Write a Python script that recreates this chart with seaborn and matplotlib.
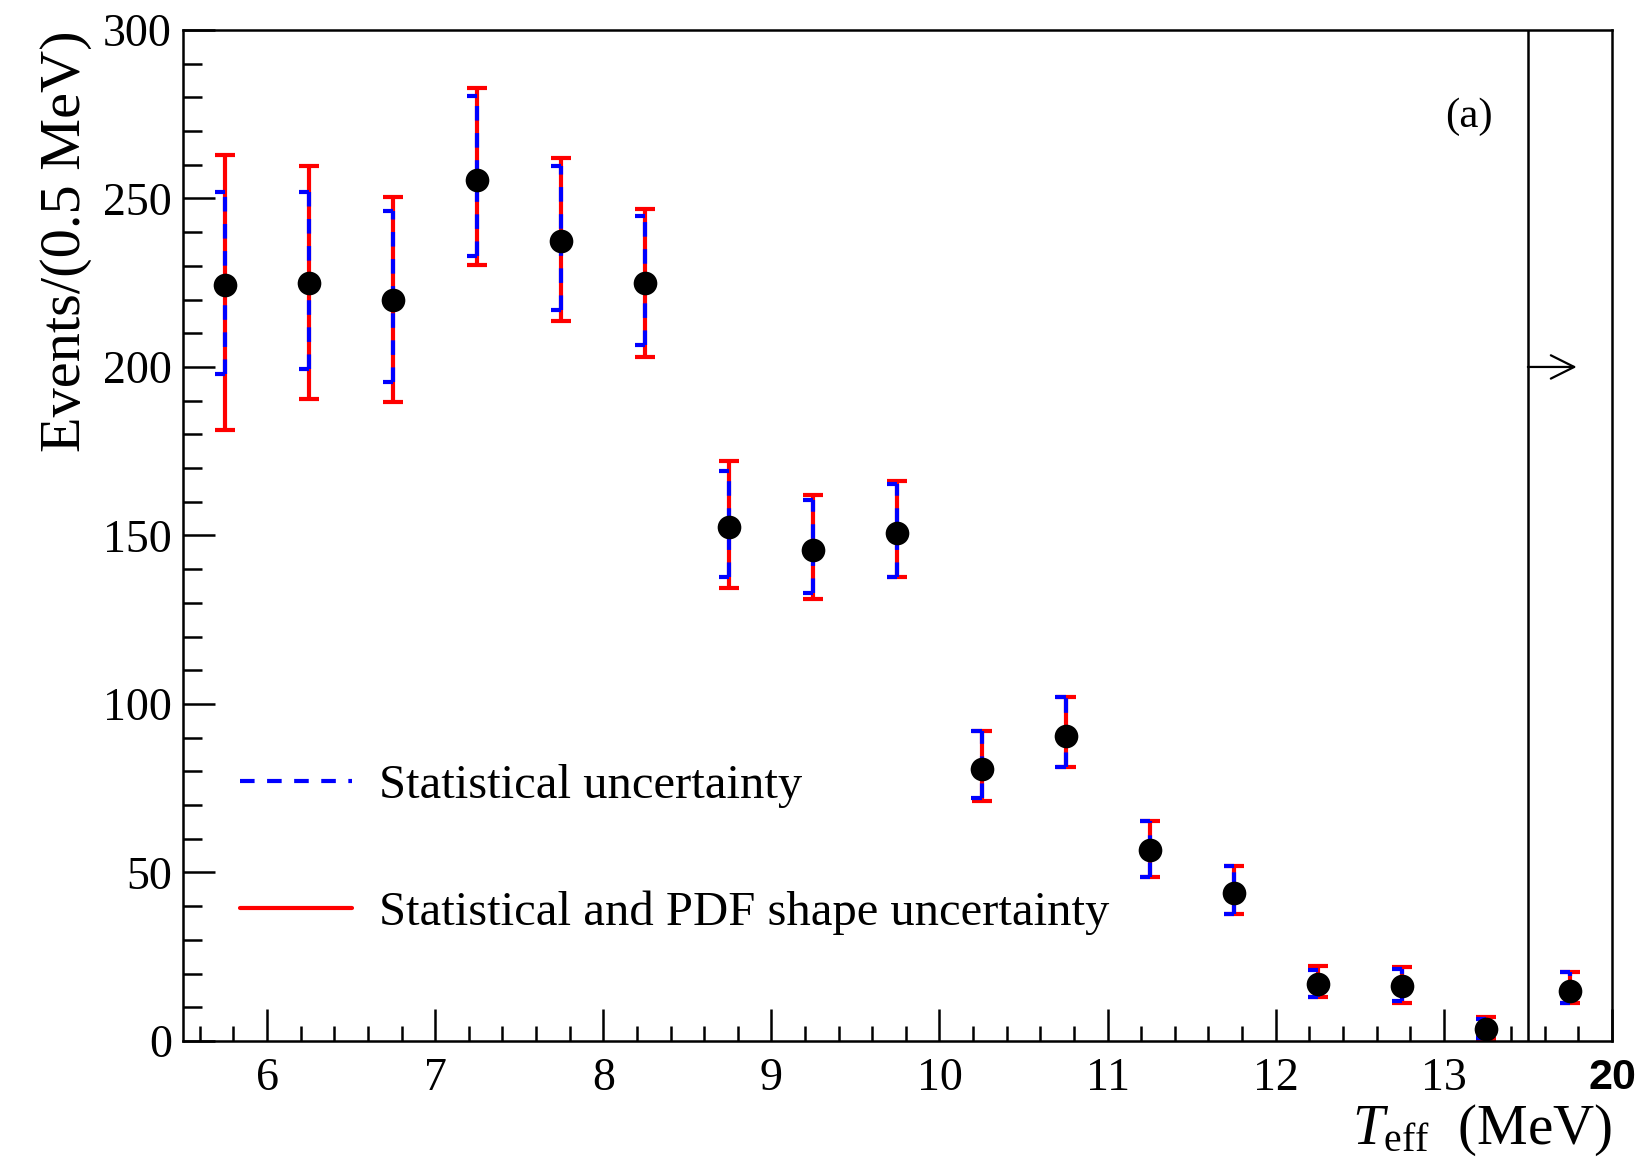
import matplotlib
matplotlib.use("Agg")
import matplotlib.pyplot as plt
import seaborn as sns
import numpy as np
import pandas as pd
from matplotlib.lines import Line2D
from matplotlib.ticker import MultipleLocator, FixedLocator

# ---- data ----
t_eff = [5.75, 6.25, 6.75, 7.25, 7.75, 8.25, 8.75, 9.25, 9.75,
         10.25, 10.75, 11.25, 11.75, 12.25, 12.75, 13.25, 13.75]
events = [224.2, 224.9, 219.8, 255.6, 237.4, 224.9, 152.5, 145.7, 150.7,
          80.7, 90.6, 56.6, 44.0, 16.8, 16.3, 3.5, 14.8]
stat_lo = [198.0, 199.5, 195.5, 232.9, 217.0, 206.4, 137.8, 132.9, 137.8,
           72.1, 81.2, 48.7, 37.8, 12.9, 11.9, 1.0, 11.4]
stat_hi = [252.0, 252.0, 246.3, 280.5, 259.7, 244.7, 169.0, 160.6, 165.3,
           91.9, 102.0, 65.3, 52.0, 21.0, 21.3, 6.5, 20.6]
tot_lo = [181.2, 190.4, 189.6, 230.4, 213.6, 202.9, 134.4, 131.0, 137.8,
          71.1, 81.2, 48.7, 37.8, 12.9, 11.2, 0.5, 11.4]
tot_hi = [262.8, 259.6, 250.3, 282.7, 261.9, 247.0, 172.0, 161.9, 166.1,
          91.9, 102.0, 65.3, 52.0, 22.1, 21.8, 7.1, 20.6]
xtick_vals = [6, 7, 8, 9, 10, 11, 12, 13, 14]
xtick_labels = ["6", "7", "8", "9", "10", "11", "12", "13", "20"]
legend_labels = ["Statistical uncertainty", "Statistical and PDF shape uncertainty"]

df = pd.DataFrame({"x": t_eff, "y": events, "slo": stat_lo, "shi": stat_hi,
                   "tlo": tot_lo, "thi": tot_hi})

sns.set_theme(style="white")
plt.rcParams["font.family"] = ["Liberation Serif", "DejaVu Serif"]
plt.rcParams["mathtext.fontset"] = "custom"
plt.rcParams["mathtext.rm"] = "Liberation Serif"
plt.rcParams["mathtext.it"] = "Liberation Serif:italic"
plt.rcParams["text.color"] = "black"
plt.rcParams["axes.labelcolor"] = "black"
plt.rcParams["xtick.color"] = "black"
plt.rcParams["ytick.color"] = "black"

fig = plt.figure(figsize=(16.41, 11.61), dpi=100)
ax = fig.add_axes([0.1115, 0.1034, 0.8708, 0.8708])

x = df["x"].to_numpy()
y = df["y"].to_numpy()
lw = 3.0
capw = 0.06

# total (red, solid)
ax.errorbar(x, y, yerr=[y - df["tlo"].to_numpy(), df["thi"].to_numpy() - y],
            fmt="none", ecolor="red", elinewidth=lw, capsize=7.2, capthick=lw, zorder=2)
# statistical (blue, dashed)
eb = ax.errorbar(x, y, yerr=[y - df["slo"].to_numpy(), df["shi"].to_numpy() - y],
                 fmt="none", ecolor="blue", elinewidth=lw, capsize=0, zorder=3)
eb[2][0].set_linestyle((0, (3.5, 3.0)))
ax.hlines(df["slo"], x - capw, x, colors="blue", lw=lw, zorder=3)
ax.hlines(df["shi"], x - capw, x, colors="blue", lw=lw, zorder=3)

sns.scatterplot(data=df, x="x", y="y", ax=ax, color="black", s=290,
                edgecolor="black", linewidth=0, zorder=5, legend=False)

# overflow separator and arrow
ax.axvline(13.5, color="black", lw=1.8, zorder=1)
ax.annotate("", xy=(13.79, 200), xytext=(13.5, 200),
            arrowprops=dict(arrowstyle="->", lw=1.6, color="black",
                            mutation_scale=42, shrinkA=0, shrinkB=0))

ax.set_xlim(5.5, 14)
ax.set_ylim(0, 300)
ax.xaxis.set_major_locator(FixedLocator(xtick_vals))
ax.set_xticklabels(xtick_labels)
ax.xaxis.set_minor_locator(MultipleLocator(0.2))
ax.yaxis.set_major_locator(MultipleLocator(50))
ax.yaxis.set_minor_locator(MultipleLocator(10))

ax.tick_params(axis="both", which="both", direction="in", top=False, right=False,
               bottom=True, left=True, color="black", width=1.8)
ax.tick_params(axis="x", which="major", length=23, labelsize=33, pad=12)
ax.tick_params(axis="x", which="minor", length=11)
ax.tick_params(axis="y", which="major", length=23, labelsize=33, pad=8)
ax.tick_params(axis="y", which="minor", length=14)
lab20 = ax.get_xticklabels()[-1]
lab20.set_fontfamily(["Liberation Sans", "DejaVu Sans"])
lab20.set_fontweight("bold")
lab20.set_fontsize(31)

for sp in ax.spines.values():
    sp.set_color("black")
    sp.set_linewidth(1.8)
    sp.set_visible(True)

ax.set_ylabel("Events/(0.5 MeV)", fontsize=42, loc="top", labelpad=8)
ax.set_xlabel(r"$T_{\rm eff}$  (MeV)", fontsize=41, loc="right", labelpad=2)

ax.text(0.90, 0.914, "(a)", transform=ax.transAxes, fontsize=31,
        ha="center", va="center")

handles = [Line2D([], [], color="blue", lw=lw, ls=(0, (3.5, 3.0))),
           Line2D([], [], color="red", lw=lw)]
ax.legend(handles, legend_labels, loc="center left", bbox_to_anchor=(0.04, 0.189),
          frameon=False, fontsize=35, handlelength=2.3, handletextpad=0.55,
          labelspacing=1.7, borderpad=0, borderaxespad=0)

fig.savefig("out.png", dpi=100, facecolor="white")
